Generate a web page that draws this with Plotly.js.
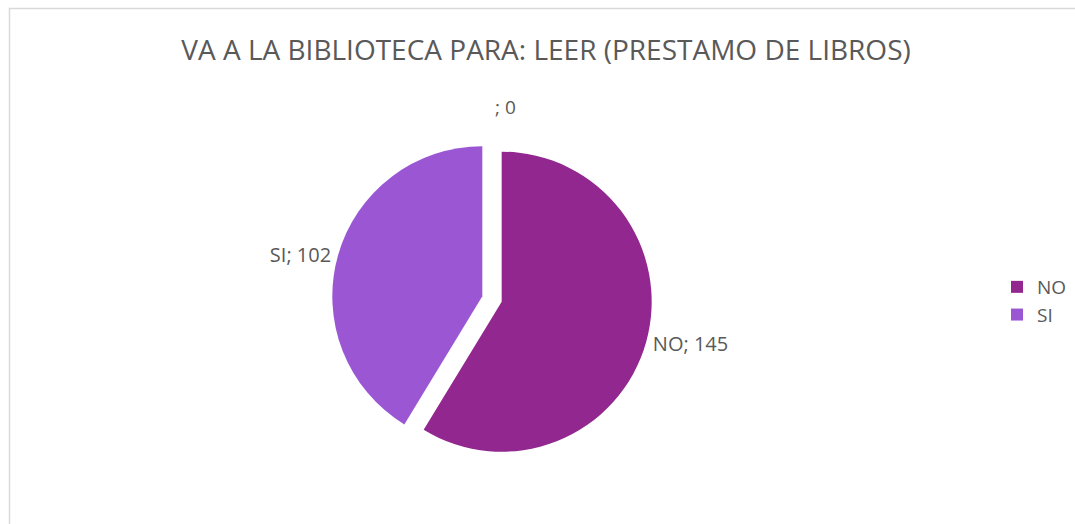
<!DOCTYPE html>
<html>
<head>
<meta charset="utf-8">
<script src="https://cdn.plot.ly/plotly-3.0.1.min.js"></script>
<style>html,body{margin:0;padding:0;background:#fff;}#chart{width:1075px;height:524px;}</style>
</head>
<body>
<div id="chart"></div>
<script>
var chartTitle = 'VA A LA BIBLIOTECA PARA: LEER (PRESTAMO DE LIBROS)';
var labels = ['NO', 'SI'];
var values = [145, 102];
var colors = ['#92278F', '#9B57D3'];
var emptyLabel = '';
var emptyValue = 0;

var W = 1075, H = 524;
var textColor = '#595959';
var fontFam = '"Open Sans", "Liberation Sans", sans-serif';

var pull = 0.067;
var cx = 492, cy = 299, r = 150;
var half = r * (1 + pull);

var trace = {
  type: 'pie',
  labels: labels,
  values: values,
  marker: {colors: colors, line: {width: 0}},
  sort: false,
  direction: 'clockwise',
  rotation: 0,
  pull: pull,
  textposition: 'outside',
  texttemplate: '%{label}; %{value}',
  textfont: {family: fontFam, size: 20, color: textColor},
  outsidetextfont: {family: fontFam, size: 20, color: textColor},
  hoverinfo: 'skip',
  domain: {x: [(cx - half) / W, (cx + half) / W], y: [1 - (cy + half) / H, 1 - (cy - half) / H]}
};

var layout = {
  width: W, height: H,
  margin: {l: 0, r: 0, t: 0, b: 0},
  paper_bgcolor: '#ffffff',
  font: {family: fontFam, color: textColor},
  title: {
    text: chartTitle,
    font: {family: fontFam, size: 28, color: textColor},
    x: 546 / W, xanchor: 'center',
    y: 1 - 50 / H, yanchor: 'middle', yref: 'container'
  },
  showlegend: true,
  legend: {
    x: 997 / W, xanchor: 'left',
    y: 1 - 301 / H, yanchor: 'middle',
    font: {family: fontFam, size: 19, color: textColor},
    bgcolor: 'rgba(0,0,0,0)'
  },
  annotations: [{
    text: emptyLabel + '; ' + emptyValue,
    xref: 'paper', yref: 'paper',
    x: 505 / W, y: 1 - 107 / H,
    xanchor: 'center', yanchor: 'middle',
    showarrow: false,
    font: {family: fontFam, size: 19, color: textColor}
  }],
  shapes: [{
    type: 'rect', xref: 'paper', yref: 'paper',
    x0: 9.5 / W, x1: 1.02, y0: -0.02, y1: 1 - 8.5 / H,
    line: {color: '#D9D9D9', width: 1.5},
    fillcolor: 'rgba(0,0,0,0)', layer: 'below'
  }]
};

Plotly.newPlot('chart', [trace], layout, {displayModeBar: false, staticPlot: true});
</script>
</body>
</html>
